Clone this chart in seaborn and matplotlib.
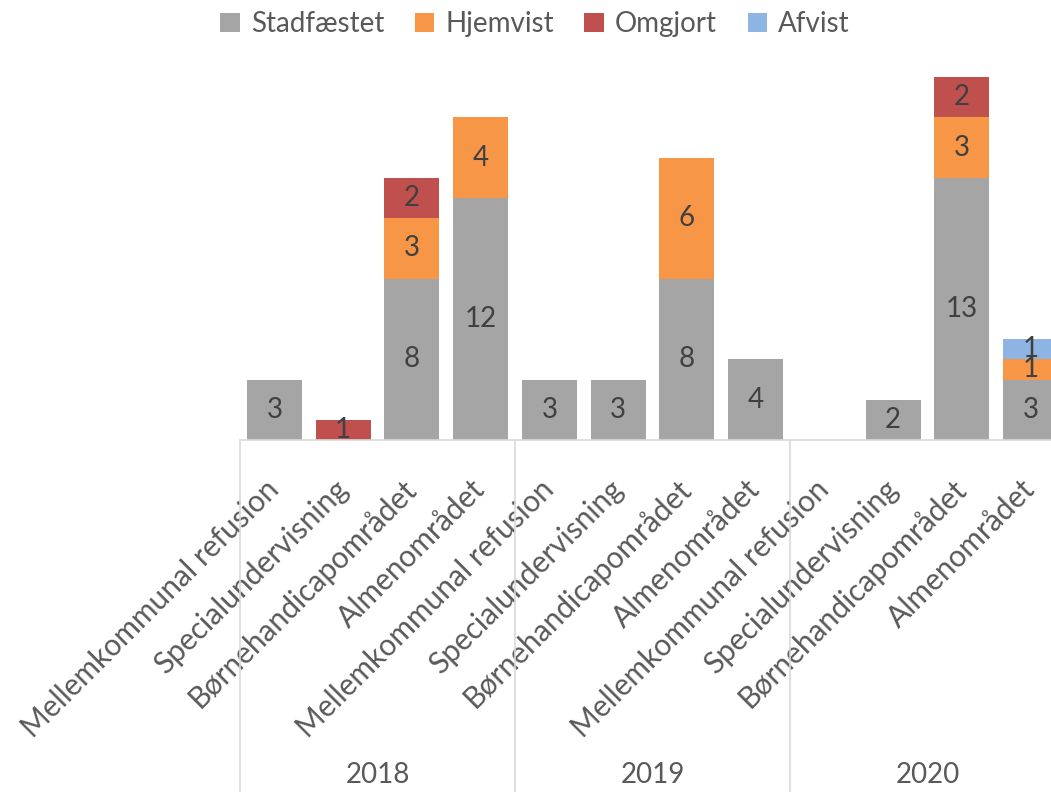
import numpy as np
import pandas as pd
import matplotlib
matplotlib.use("Agg")
import matplotlib.pyplot as plt
from matplotlib.patches import Patch
import matplotlib.transforms as mtransforms
import seaborn as sns

# ---- data ----
years = ["2018", "2019", "2020"]
areas = ["Mellemkommunal refusion", "Specialundervisning",
         "Børnehandicapområdet", "Almenområdet"]
series = ["Stadfæstet", "Hjemvist", "Omgjort", "Afvist"]

stadfaestet = [3, 0, 8, 12,   3, 3, 8, 4,   0, 2, 13, 3]
hjemvist    = [0, 0, 3, 4,    0, 0, 6, 0,   0, 0, 3, 1]
omgjort     = [0, 1, 2, 0,    0, 0, 0, 0,   0, 0, 2, 0]
afvist      = [0, 0, 0, 0,    0, 0, 0, 0,   0, 0, 0, 1]

colors = ["#A5A5A5", "#F79646", "#C0504D", "#8DB4E2"]

sns.set_theme(style="white")
plt.rcParams["font.family"] = ["Lato", "DejaVu Sans"]
text_color = "#595959"
line_color = "#D9D9D9"

fig = plt.figure(figsize=(10.51, 7.92), dpi=100)
ax = fig.add_axes([240 / 1051, 352 / 792, 825 / 1051, 363 / 792])

n = len(stadfaestet)
pos = list(range(n))
bottom = np.zeros(n)
for name, vals, col in zip(series, [stadfaestet, hjemvist, omgjort, afvist], colors):
    vals = np.array(vals, dtype=float)
    df = pd.DataFrame({"pos": pos, "val": vals})
    sns.barplot(data=df, x="pos", y="val", bottom=bottom.copy(), color=col,
                width=0.8, saturation=1, ax=ax, linewidth=0)
    for i, v in enumerate(vals):
        if v > 0:
            ax.text(i, bottom[i] + v / 2, f"{int(v)}", ha="center", va="center",
                    fontsize=20, color="#404040")
    bottom += vals

ax.set_xlim(-0.5, n - 0.5)
ax.set_ylim(0, 18)
ax.set_yticks([])
ax.set_xlabel("")
ax.set_ylabel("")
for s in ["top", "right", "left"]:
    ax.spines[s].set_visible(False)
ax.spines["bottom"].set_color(line_color)
ax.spines["bottom"].set_linewidth(1.2)

ax.set_xticks(pos)
ax.set_xticklabels(areas * len(years), rotation=45, ha="right",
                   va="center", rotation_mode="anchor",
                   fontsize=21.5, color=text_color)
ax.tick_params(axis="x", length=0, pad=32)

# year group separators and labels
trans = mtransforms.blended_transform_factory(ax.transData, fig.transFigure)
for g, yr in enumerate(years):
    left = g * 4 - 0.5
    ax.plot([left, left], [352 / 792, 0], transform=trans, color=line_color,
            linewidth=1.2, clip_on=False)
    ax.text(left + 2, 17 / 792, yr, transform=trans, ha="center", va="center",
            fontsize=20, color=text_color)

handles = [Patch(facecolor=c, edgecolor="none") for c in colors]
fig.legend(handles, series, loc="center", bbox_to_anchor=(535 / 1051, 1 - 24 / 792),
           ncol=4, frameon=False, fontsize=20, handlelength=0.7, handleheight=0.7,
           handletextpad=0.4, columnspacing=1.1, labelcolor=text_color)

fig.savefig("out.png", dpi=100)
